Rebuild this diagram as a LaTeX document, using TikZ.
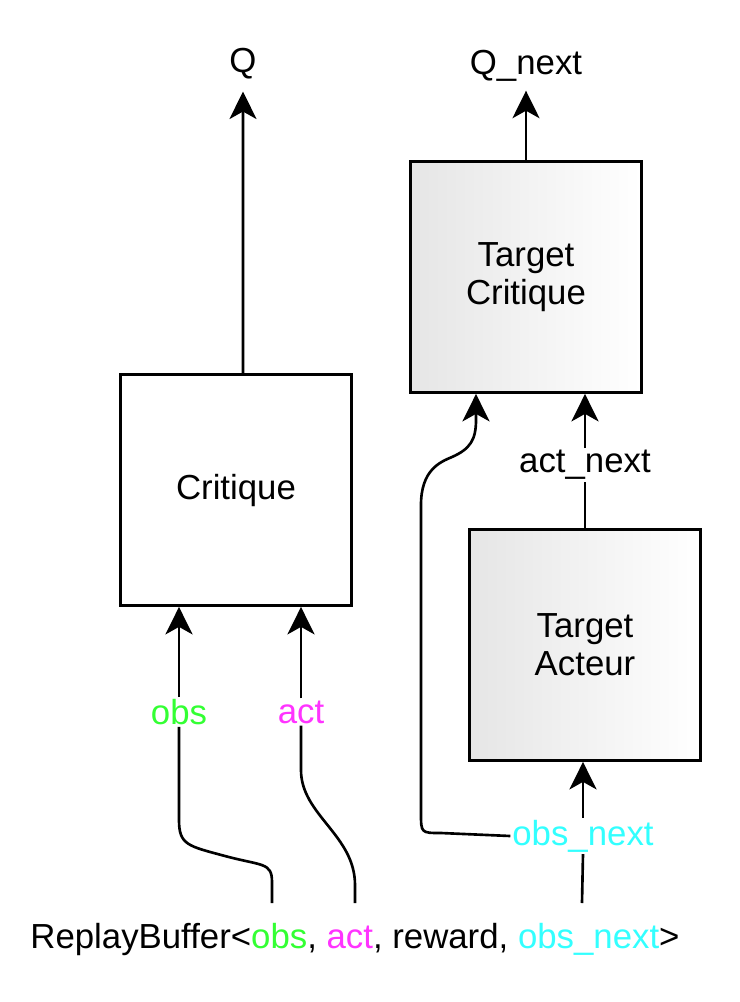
\documentclass[tikz,border=0pt]{standalone}
\usepackage{fontspec}
\setmainfont{Liberation Sans}
\usetikzlibrary{arrows.meta}
\definecolor{obsgreen}{HTML}{33FF33}
\definecolor{actpink}{HTML}{FF33FF}
\definecolor{nextcyan}{HTML}{33FFFF}
\begin{document}
\begin{tikzpicture}[x=0.02cm, y=-0.02cm,
    font=\fontsize{19.8}{22.8}\selectfont,
    mybox/.style={draw, line width=1.6pt, minimum width=4.62cm, minimum height=4.62cm, align=center},
    mytarget/.style={mybox, left color=black!10, right color=white},
    mylabel/.style={fill=white, inner sep=1pt},
    myline/.style={line width=1.5pt},
    myarrow/.style={myline, -{Stealth[length=0.55cm, width=0.54cm, inset=0.15cm]}}]
  \useasboundingbox (0,0) rectangle (740,1002);
  % boxes
  \node[mybox] (crit) at (236,490) {Critique};
  \node[mytarget] (tcrit) at (526,277) {Target\\[-1pt]Critique};
  \node[mytarget] (tact) at (585,645) {Target\\[-1pt]Acteur};
  % labels
  \node[mylabel] (qL) at (243,64) {Q};
  \node[mylabel] (qnL) at (526,66) {Q\_next};
  \node[mylabel, text=obsgreen] (obsL) at (179,712) {obs};
  \node[mylabel, text=actpink] (actL) at (301,712) {act};
  \node[mylabel] (actnL) at (585,465) {act\_next};
  \node[mylabel, text=nextcyan] (nextL) at (583,836) {obs\_next};
  \node[anchor=base] (buf) at (355,948) {ReplayBuffer<\textcolor{obsgreen}{obs}, \textcolor{actpink}{act}, reward, \textcolor{nextcyan}{obs\_next}>};
  \coordinate (bobs) at (272,903);
  \coordinate (bact) at (355,903);
  \coordinate (bnext) at (582,903);
  % outputs
  \draw[myarrow] ([xshift=0.14cm]crit.north) -- ([yshift=-0.2cm]qL.south);
  \draw[myarrow] (tcrit.north) -- ([yshift=-0.14cm]qnL.south);
  % critique inputs
  \draw[myline] (bobs) -- (272,882) .. controls (272,862) and (262,866) .. (225,856)
    .. controls (188,846) and (179,845) .. (179,820) -- (obsL.south);
  \draw[myarrow] (obsL.north) -- (obsL.north |- crit.south);
  \draw[myline] (bact) -- (355,885) .. controls (355,835) and (301,815) .. (301,770) -- (actL.south);
  \draw[myarrow] (actL.north) -- (actL.north |- crit.south);
  % target side
  \draw[myline] (bnext) -- (nextL.south);
  \draw[myarrow] (nextL.north) -- (nextL.north |- tact.south);
  \draw[myarrow] (nextL.west) -- (441,833) .. controls (421,833) .. (421,813) -- (421,505)
    .. controls (421,470) and (440,462) .. (452,457) .. controls (470,449) and (476,440) .. (476,420)
    -- ([xshift=-1cm]tcrit.south);
  \draw[myline] (tact.north) -- (actnL.south);
  \draw[myarrow] (actnL.north) -- (actnL.north |- tcrit.south);
\end{tikzpicture}
\end{document}
